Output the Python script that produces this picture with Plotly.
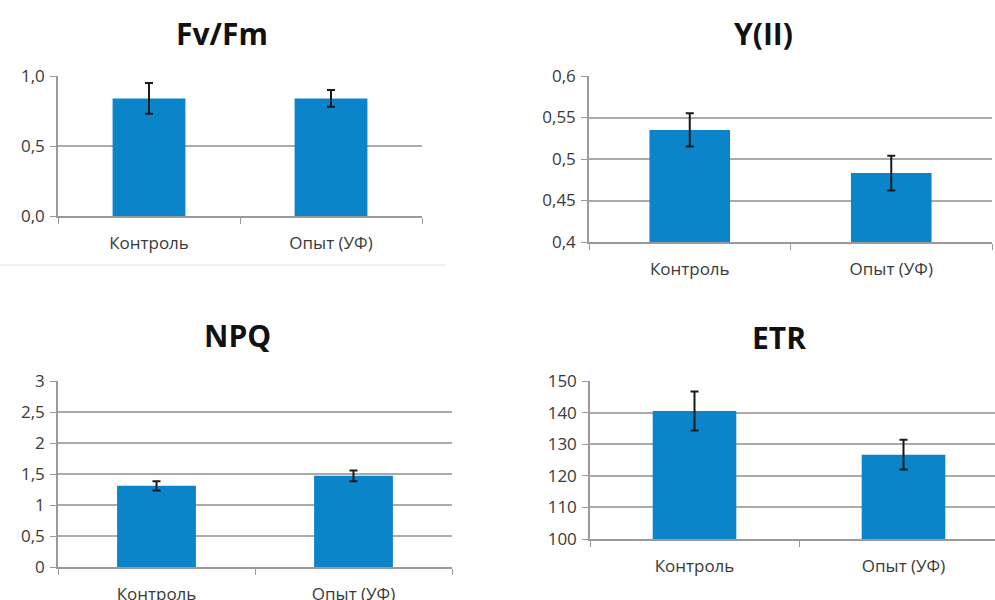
import plotly.graph_objects as go

# Chlorophyll fluorescence parameters: control vs UV-treated
categories = ["Контроль", "Опыт (УФ)"]

fvfm = [0.84, 0.84]
fvfm_err = [0.11, 0.06]

y2 = [0.535, 0.483]
y2_err = [0.020, 0.021]

npq = [1.31, 1.47]
npq_err = [0.075, 0.087]

etr = [140.5, 126.7]
etr_err = [6.2, 4.7]

titles = ["Fv/Fm", "Y(II)", "NPQ", "ETR"]

fvfm_ticks = [0.0, 0.5, 1.0]
fvfm_ticktext = ["0,0", "0,5", "1,0"]
y2_ticks = [0.4, 0.45, 0.5, 0.55, 0.6]
y2_ticktext = ["0,4", "0,45", "0,5", "0,55", "0,6"]
npq_ticks = [0, 0.5, 1, 1.5, 2, 2.5, 3]
npq_ticktext = ["0", "0,5", "1", "1,5", "2", "2,5", "3"]
etr_ticks = [100, 110, 120, 130, 140, 150]
etr_ticktext = ["100", "110", "120", "130", "140", "150"]

W, H = 995, 600
BAR = "#0b84c9"
GRID = "#ababab"
AXIS = "#9a9a9a"
FONT = "Open Sans"


def px_x(a, b):
    return [a / W, min(b / W, 1.0)]


def px_y(top, bottom):
    return [1 - bottom / H, 1 - top / H]


panels = [
    dict(vals=fvfm, err=fvfm_err, ticks=fvfm_ticks, text=fvfm_ticktext,
         yr=[0, 1.0], xd=px_x(58, 422), yd=px_y(76, 216), xr=[-0.5, 1.5],
         title_xy=(222, 33)),
    dict(vals=y2, err=y2_err, ticks=y2_ticks, text=y2_ticktext,
         yr=[0.4, 0.6], xd=px_x(589, 992), yd=px_y(76, 242), xr=[-0.5, 1.5],
         title_xy=(763, 33)),
    dict(vals=npq, err=npq_err, ticks=npq_ticks, text=npq_ticktext,
         yr=[0, 3], xd=px_x(58, 452), yd=px_y(381, 567), xr=[-0.5, 1.5],
         title_xy=(237, 335)),
    # the last panel runs off the right edge of the page
    dict(vals=etr, err=etr_err, ticks=etr_ticks, text=etr_ticktext,
         yr=[100, 150], xd=px_x(590, 995), yd=px_y(381, 539),
         xr=[-0.5, -0.5 + 405 / 209], title_xy=(779, 337)),
]

fig = go.Figure()
layout = dict(
    width=W, height=H,
    margin=dict(l=0, r=0, t=0, b=0, autoexpand=False),
    paper_bgcolor="white", plot_bgcolor="white",
    showlegend=False,
    font=dict(family=FONT, color="#404040"),
)
annotations = []

for i, p in enumerate(panels, start=1):
    xa = "x" if i == 1 else f"x{i}"
    ya = "y" if i == 1 else f"y{i}"
    fig.add_trace(go.Bar(
        x=categories, y=p["vals"], xaxis=xa, yaxis=ya,
        width=0.4, marker=dict(color=BAR, line=dict(width=0)),
        error_y=dict(type="data", array=p["err"], visible=True,
                     color="#1a1a1a", thickness=2, width=4),
        hoverinfo="x+y",
    ))
    key = "" if i == 1 else str(i)
    layout["xaxis" + key] = dict(
        domain=p["xd"], anchor=ya, type="category", range=p["xr"],
        automargin=False,
        showline=True, linecolor=AXIS, linewidth=1.5,
        ticks="outside", tickson="boundaries", ticklen=6, tickcolor=AXIS,
        showgrid=False, tickfont=dict(size=17, color="#3a3a3a", family=FONT),
        ticklabelstandoff=11, fixedrange=True,
    )
    layout["yaxis" + key] = dict(
        domain=p["yd"], anchor=xa, range=p["yr"],
        automargin=False,
        tickvals=p["ticks"], ticktext=p["text"],
        showline=True, linecolor=AXIS, linewidth=1.5,
        ticks="outside", ticklen=6, tickcolor=AXIS,
        showgrid=True, gridcolor=GRID, gridwidth=1.5, zeroline=False,
        tickfont=dict(size=17, color="#3a3a3a", family=FONT),
        ticklabelstandoff=2, fixedrange=True,
    )
    tx, ty = p["title_xy"]
    annotations.append(dict(
        text=f"<b>{titles[i - 1]}</b>", x=tx / W, y=1 - ty / H,
        xref="paper", yref="paper", xanchor="center", yanchor="middle",
        showarrow=False, font=dict(size=30, color="#111111", family=FONT),
    ))

layout["annotations"] = annotations
layout["shapes"] = [dict(
    type="line", xref="paper", yref="paper",
    x0=0, x1=445 / W, y0=1 - 265 / H, y1=1 - 265 / H,
    line=dict(color="#efefef", width=2),
)]
fig.update_layout(**layout)

fig.write_html("out.html")
